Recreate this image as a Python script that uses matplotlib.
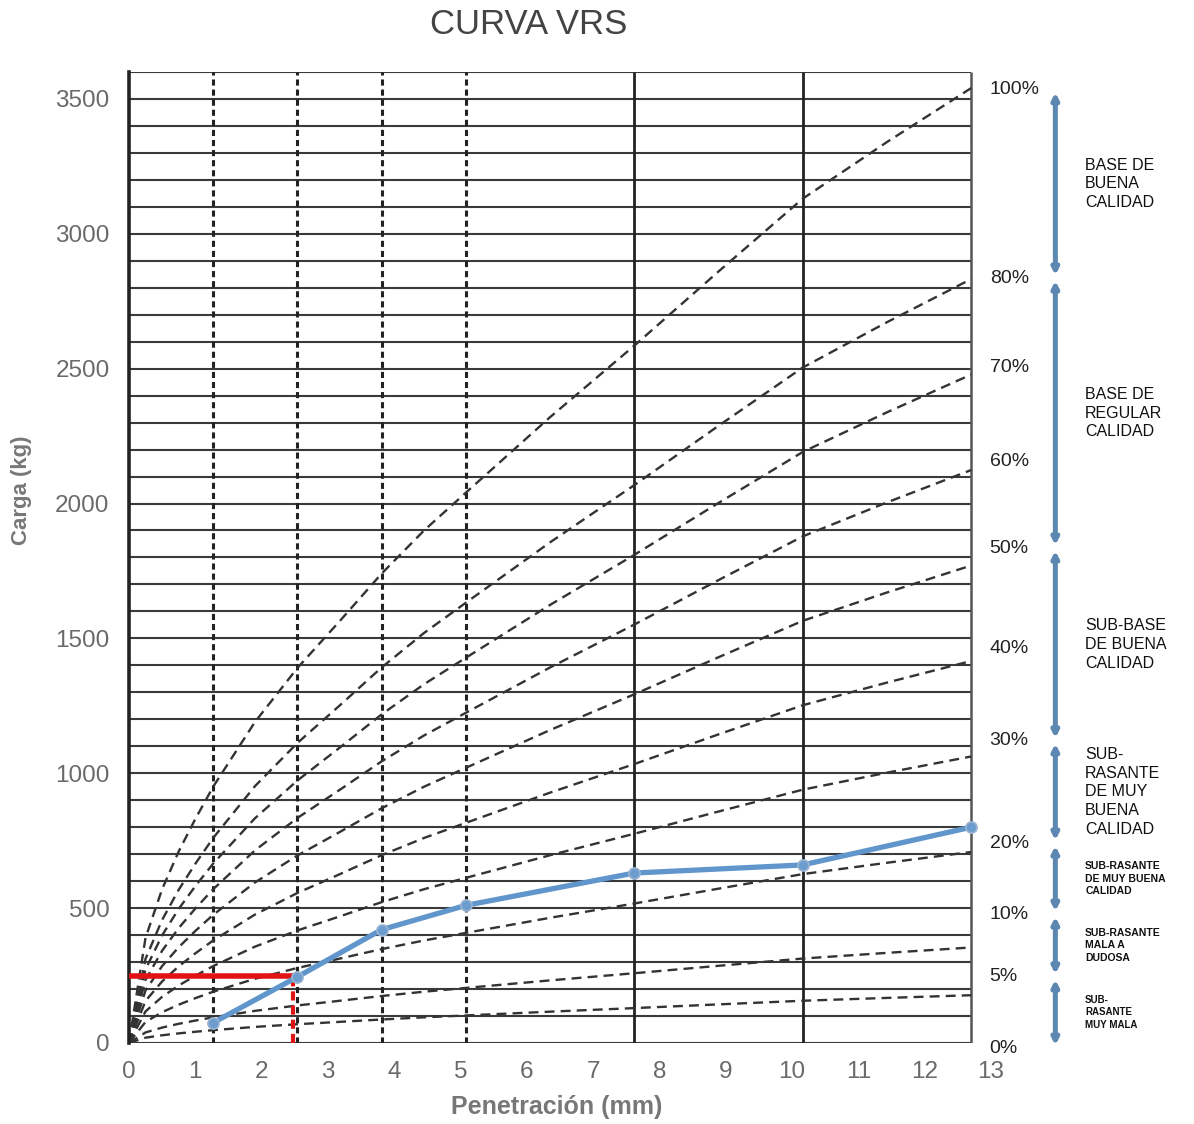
import matplotlib.pyplot as plt
import numpy as np

plt.rcParams['font.family'] = ['Liberation Sans', 'DejaVu Sans']

# curva patron (100 %): penetracion en mm, carga en kg
penetracion_patron = [0, 0.25, 0.5, 0.75, 1.0, 1.27, 1.9, 2.54, 3.2, 3.81,
                      4.45, 5.08, 6.35, 7.62, 8.89, 10.16, 11.43, 12.7]
carga_patron = [0, 390, 570, 710, 830, 950, 1190, 1390, 1570, 1740,
                1900, 2040, 2320, 2585, 2860, 3130, 3340, 3540]

# familias de curvas VRS
porcentajes = [100, 80, 70, 60, 50, 40, 30, 20, 10, 5]

# ensayo
penetracion_ensayo = [1.27, 2.54, 3.81, 5.08, 7.62, 10.16, 12.7]
carga_ensayo = [75, 245, 420, 510, 630, 660, 800]

# lectura a 0.1"
lectura_pen = 2.48
lectura_carga = 250

# escala de la derecha
escala_etiquetas = ['100%', '80%', '70%', '60%', '50%', '40%',
                    '30%', '20%', '10%', '5%', '0%']
escala_carga = [3534, 2836, 2506, 2154, 1835, 1461, 1120, 741, 478, 245, -19]

# clasificacion del material
clases_limites = ['100%', '80%', '50%', '30%', '20%', '10%', '5%', '0%']
clases = ['BASE DE\nBUENA\nCALIDAD',
          'BASE DE\nREGULAR\nCALIDAD',
          'SUB-BASE\nDE BUENA\nCALIDAD',
          'SUB-\nRASANTE\nDE MUY\nBUENA\nCALIDAD',
          'SUB-RASANTE\nDE MUY BUENA\nCALIDAD',
          'SUB-RASANTE\nMALA A\nDUDOSA',
          'SUB-\nRASANTE\nMUY MALA']
clases_tam = [11.5, 11.5, 11.5, 11.5, 7.5, 7.5, 7]
clases_peso = ['normal', 'normal', 'normal', 'normal', 'bold', 'bold', 'bold']

fig = plt.figure(figsize=(11.94, 11.24), dpi=100)
ax = fig.add_axes([0.108, 0.0721, 0.722, 0.8639])

x_borde = 12.7
y_tope = 3600

# cuadricula del papel
ax.hlines(np.arange(0, y_tope + 1, 100), 0, x_borde, color='#3a3a3a', lw=1.5, zorder=1)
ax.vlines([1.27, 2.54, 3.81, 5.08], 0, y_tope, color='#222222', lw=2.2,
          linestyles=(0, (2.0, 1.3)), zorder=1)
ax.vlines([7.62, 10.16], 0, y_tope, color='#222222', lw=2.0, zorder=1)
ax.vlines([x_borde], 0, y_tope, color='#555555', lw=1.8, zorder=1)

# curvas VRS
patron = np.array(carga_patron)
for p in porcentajes:
    ax.plot(penetracion_patron, patron * p / 100, color='#333333', lw=1.7,
            ls=(0, (4.2, 2.6)), zorder=2)

# lectura en rojo
ax.plot([0, lectura_pen], [lectura_carga, lectura_carga], color='#e01414', lw=4,
        solid_capstyle='butt', zorder=3)
ax.plot([lectura_pen, lectura_pen], [0, lectura_carga], color='#e01414', lw=3,
        ls=(0, (2.2, 1.2)), zorder=3)

# curva del ensayo
ax.plot(penetracion_ensayo, carga_ensayo, color='#6096cb', lw=3.8, marker='o',
        ms=8, mfc='#6d9dcf', mec='#9ab5d2', mew=1.2, zorder=5, clip_on=False)

ax.set_xlim(0, 13)
ax.set_ylim(0, y_tope)
ax.set_xticks(range(0, 14))
ax.set_yticks(range(0, 3501, 500))
ax.tick_params(length=0, labelsize=17.5, labelcolor='#6a6a6a')
ax.tick_params(axis='y', pad=14)
ax.tick_params(axis='x', pad=13)
for s in ['top', 'right', 'bottom']:
    ax.spines[s].set_visible(False)
ax.spines['left'].set_linewidth(2.6)
ax.spines['left'].set_color('#222222')

# escala de porcentajes
for etiqueta, y in zip(escala_etiquetas, escala_carga):
    ax.text(12.98, y, etiqueta, fontsize=14, color='#222222', ha='left',
            va='center', clip_on=False)

# llaves de clasificacion
x_llave = 13.97
x_texto = 14.42
for i, texto in enumerate(clases):
    y1 = escala_carga[escala_etiquetas.index(clases_limites[i])]
    y2 = escala_carga[escala_etiquetas.index(clases_limites[i + 1])]
    ax.annotate('', xy=(x_llave, y2), xytext=(x_llave, y1), annotation_clip=False,
                arrowprops=dict(arrowstyle='<|-|>,head_width=0.18,head_length=0.35',
                                color='#5b87b0', lw=3.6, shrinkA=2, shrinkB=2))
    ax.text(x_texto, (y1 + y2) / 2, texto, fontsize=clases_tam[i],
            fontweight=clases_peso[i], color='#111111', ha='left', va='center',
            linespacing=1.3, clip_on=False)

fig.text(0.443, 0.978, 'CURVA VRS', fontsize=25, color='#444444',
         ha='center', va='center')
fig.text(0.018, 0.564, 'Carga (kg)', fontsize=16, fontweight='bold',
         color='#777777', rotation=90, ha='center', va='center')
fig.text(0.466, 0.015, 'Penetración (mm)', fontsize=18, fontweight='bold',
         color='#777777', ha='center', va='center')

fig.savefig('out.png', dpi=100)
